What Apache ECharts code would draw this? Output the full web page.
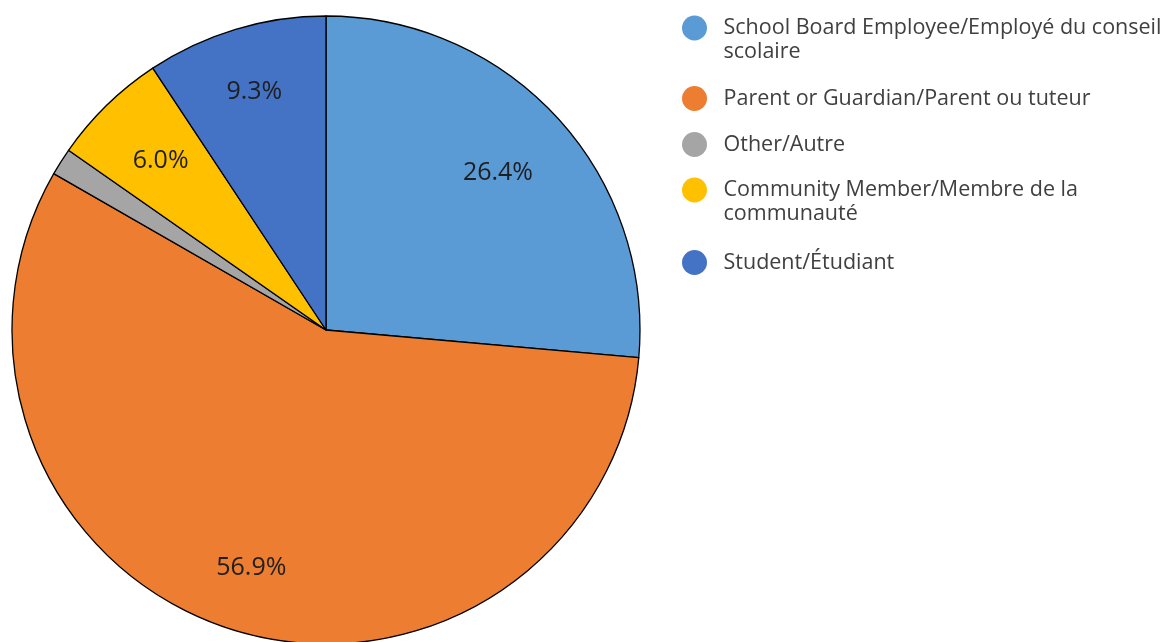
<!DOCTYPE html>
<html>
<head>
<meta charset="utf-8">
<script src="https://cdn.jsdelivr.net/npm/echarts@6/dist/echarts.min.js"></script>
<style>
html,body{margin:0;padding:0;background:#fff;}
#chart{width:1170px;height:642px;}
</style>
</head>
<body>
<div id="chart"></div>
<script>
// ---- data ----
const categories = [
  'School Board Employee/Employé du conseil scolaire',
  'Parent or Guardian/Parent ou tuteur',
  'Other/Autre',
  'Community Member/Membre de la communauté',
  'Student/Étudiant'
];
const legendLabels = [
  'School Board Employee/Employé du conseil\nscolaire',
  'Parent or Guardian/Parent ou tuteur',
  'Other/Autre',
  'Community Member/Membre de la\ncommunauté',
  'Student/Étudiant'
];
const values = [26.4, 56.9, 1.4, 6.0, 9.3];
const showLabel = [true, true, false, true, true];
const colors = ['#5B9BD5', '#ED7D31', '#A5A5A5', '#FFC000', '#4472C4'];

// ---- layout / style ----
const FONT = '"Open Sans", "Noto Sans", sans-serif';
const center = [326, 330];
const R = 314;
const LEG_FS = 21.5;
const LEG_LH = 24;
const labelRadialFactor = [0.965, 1.03, 1, 0.98, 1.03];
const iconTops = [16, 86, 132, 178, 250];

const pieData = categories.map((n, i) => ({ name: n, value: values[i], itemStyle: { color: colors[i] } }));
const labelData = categories.map((n, i) => ({ name: n, value: values[i], label: { show: showLabel[i] } }));

const legends = categories.map((n, i) => {
  const lines = legendLabels[i].split('\n');
  const pad = (lines.length - 1) * LEG_LH;
  const textStyle = {
    fontFamily: FONT, fontSize: LEG_FS, color: '#404040', lineHeight: LEG_LH,
    rich: { a: { fontFamily: FONT, fontSize: LEG_FS, color: '#404040', lineHeight: LEG_LH } }
  };
  if (pad > 0) {
    textStyle.padding = [pad, 0, 0, 0];
    textStyle.backgroundColor = 'rgba(255,255,255,0)';
  }
  return {
    data: [n],
    orient: 'vertical',
    left: 682,
    top: iconTops[i] - pad,
    padding: 0,
    icon: 'circle',
    itemWidth: 48,
    itemHeight: 25,
    selectedMode: false,
    itemStyle: { borderWidth: 0 },
    formatter: () => lines.map(s => '{a|' + s + '}').join('\n'),
    textStyle: textStyle
  };
});

const chart = echarts.init(document.getElementById('chart'), null, { renderer: 'canvas' });
chart.setOption({
  animation: false,
  backgroundColor: '#ffffff',
  legend: legends,
  series: [
    {
      type: 'pie',
      center: center,
      radius: [0, R],
      startAngle: 90,
      clockwise: true,
      silent: true,
      label: { show: false },
      labelLine: { show: false },
      itemStyle: { borderColor: '#000000', borderWidth: 1.3 },
      data: pieData
    },
    {
      type: 'pie',
      center: center,
      radius: [R * 0.52, R],
      startAngle: 90,
      clockwise: true,
      silent: true,
      itemStyle: { color: 'rgba(0,0,0,0)', borderWidth: 0 },
      label: {
        position: 'inside',
        fontFamily: FONT,
        fontSize: 25,
        color: '#1f1f1f',
        formatter: p => p.value.toFixed(1) + '%'
      },
      labelLine: { show: false },
      labelLayout: function (params) {
        const f = labelRadialFactor[params.dataIndex];
        const r = params.labelRect;
        const lx = r.x + r.width / 2 - center[0];
        const ly = r.y + r.height / 2 - center[1];
        return { dx: (f - 1) * lx, dy: (f - 1) * ly };
      },
      data: labelData
    }
  ]
});
</script>
</body>
</html>
